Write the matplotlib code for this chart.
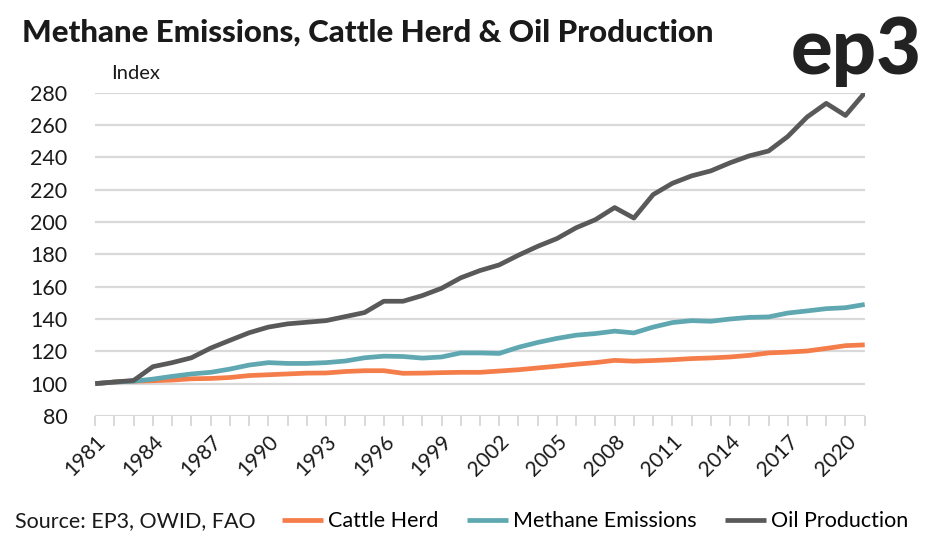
#!/usr/bin/env python3
"""Methane emissions, cattle herd and oil production index chart."""

import matplotlib
matplotlib.use("Agg")
import matplotlib.pyplot as plt
from matplotlib.ticker import FixedLocator, MultipleLocator

YEARS = list(range(1981, 2022))
CATTLE = [100, 101, 101.5, 101.8, 102.2, 103, 103.2, 103.8, 105, 105.5,
          106, 106.5, 106.6, 107.5, 108, 108, 106.4, 106.5, 106.8, 107, 107,
          107.8, 108.6, 109.7, 110.8, 112, 113, 114.4, 113.9, 114.3, 114.8,
          115.5, 115.9, 116.5, 117.5, 119, 119.5, 120.2, 121.8, 123.5, 124]
METHANE = [100, 101, 101.5, 102.8, 104.5, 106, 107, 109, 111.5, 113,
           112.5, 112.5, 113, 114, 116, 117, 116.8, 115.8, 116.5, 119, 119,
           118.7, 122.5, 125.5, 128, 130, 131, 132.5, 131.4, 135, 137.8,
           139, 138.6, 140, 141, 141.3, 143.7, 145, 146.4, 147, 149]
OIL = [100, 101, 102, 110.5, 113, 116, 122, 126.8, 131.5, 135,
       137, 138, 139, 141.5, 144, 151, 151, 154.5, 159, 165.5, 170,
       173.5, 179.5, 185, 189.8, 196.5, 201.5, 209, 202.5, 217, 224,
       228.6, 231.7, 236.7, 241, 244, 253, 265, 273.5, 266, 280]
SERIES = [("Cattle Herd", CATTLE, "#F47D4A"),
          ("Methane Emissions", METHANE, "#5FA8B1"),
          ("Oil Production", OIL, "#595959")]
LABEL_YEARS = YEARS[::3]

plt.rcParams["font.family"] = ["Lato", "DejaVu Sans"]

fig = plt.figure(figsize=(9.43, 5.43), dpi=100)
ax = fig.add_axes([0.101, 0.234, 0.816, 0.595])

for name, values, color in SERIES:
    ax.plot(YEARS, values, color=color, linewidth=3.4, label=name,
            solid_capstyle="butt", zorder=3)

ax.set_xlim(YEARS[0], YEARS[-1])
ax.set_ylim(80, 280)
ax.yaxis.set_major_locator(MultipleLocator(20))
ax.grid(axis="y", color="#d9d9d9", linewidth=1.6, zorder=0)
ax.set_axisbelow(True)
for spine in ax.spines.values():
    spine.set_visible(False)

ax.xaxis.set_major_locator(FixedLocator(YEARS))
ax.set_xticklabels([str(y) if y in LABEL_YEARS else "" for y in YEARS],
                   rotation=45, ha="right", rotation_mode="anchor")
ax.tick_params(axis="x", length=7, width=1.4, color="#d9d9d9",
               labelsize=15, labelcolor="#1a1a1a", pad=4)
ax.tick_params(axis="y", length=0, labelsize=15.5, labelcolor="#1a1a1a", pad=20)

fig.text(0.023, 0.94, "Methane Emissions, Cattle Herd & Oil Production",
         fontsize=22.5, fontweight="black", color="#1a1a1a", va="center")
fig.text(0.978, 0.905, "ep3", fontsize=56, fontweight="black",
         color="#222222", ha="right", va="center")
ax.text(0.02, 1.035, "Index", transform=ax.transAxes, fontsize=14.5,
        color="#1a1a1a", va="bottom")
fig.text(0.016, 0.04, "Source: EP3, OWID, FAO", fontsize=15.5,
         color="#1a1a1a", va="center")

fig.legend(loc="center left", bbox_to_anchor=(0.29, 0.04), ncol=3,
           frameon=False, fontsize=15.5, handlelength=1.9, handletextpad=0.25,
           columnspacing=1.3, borderaxespad=0)

fig.savefig("out.png", dpi=100)
